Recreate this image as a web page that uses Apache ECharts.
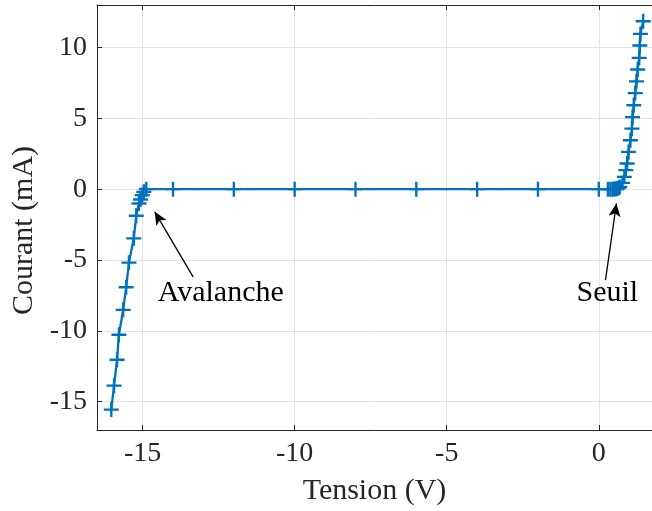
<!DOCTYPE html>
<html>
<head>
<meta charset="utf-8">
<script src="https://cdn.jsdelivr.net/npm/echarts@6/dist/echarts.min.js"></script>
<style>html,body{margin:0;padding:0;background:#fff}#c{width:652px;height:511px}</style>
</head>
<body>
<div id="c"></div>
<script>
// Tension (V)
var tension = [-16.03,-15.94,-15.84,-15.78,-15.64,-15.54,-15.45,-15.29,-15.21,-15.12,-15.07,-15.01,-14.96,-14.88,
  -14,-12,-10,-8,-6,-4,-2,0,0.30,0.38,0.45,0.50,0.56,0.60,0.65,0.69,0.78,0.84,0.89,0.93,0.98,1.04,1.09,1.11,1.15,1.20,1.24,1.28,1.33,1.35,1.37,1.46];
// Courant (mA)
var courant = [-15.56,-13.87,-12.04,-10.28,-8.52,-6.92,-5.19,-3.47,-1.88,-1.01,-0.73,-0.42,-0.19,0,
  0,0,0,0,0,0,0,0,0,0,0,0.01,0.02,0.04,0.08,0.16,0.44,0.87,1.34,1.81,2.63,3.45,4.27,5.09,5.92,6.78,7.61,8.45,9.27,10.14,10.96,11.85];
var xTicks = [-15,-10,-5,0];
var yTicks = [-15,-10,-5,0,5,10];
var xRange = [-16.5, 1.75];
var yRange = [-17, 13];
// annotations: text, text position, arrow tail, arrow head
var annText = ['Avalanche','Seuil'];
var annTextPos = [[-12.43,-7.34],[0.28,-7.34]];
var annTail = [[-13.34,-6.19],[0.22,-6.42]];
var annHead = [[-14.6,-1.6],[0.58,-1.01]];

var data = tension.map(function(v,i){return [v, courant[i]];});
var font = 'Liberation Serif';
var txt = '#262626';
var plus = 'path://M0,5.9H14V8.1H0Z M5.9,0H8.1V14H5.9Z';

var chart = echarts.init(document.getElementById('c'), null, {renderer:'canvas'});
var axisCommon = {
  type:'value',
  axisLine:{show:true,onZero:false,lineStyle:{color:txt,width:1}},
  splitLine:{show:true,lineStyle:{color:'#e3e3e3',width:1}},
};
chart.setOption({
  animation:false,
  backgroundColor:'#fff',
  grid:{left:97,right:0,top:5,bottom:81,containLabel:false},
  xAxis:[
    Object.assign({}, axisCommon, {
      min:xRange[0],max:xRange[1],splitNumber:4,position:'bottom',
      name:'Tension (V)',nameLocation:'middle',nameGap:46,
      nameTextStyle:{fontFamily:font,fontSize:30,color:txt},
      axisTick:{show:true,inside:true,length:5,customValues:xTicks,lineStyle:{color:txt}},
      axisLabel:{show:true,margin:10,customValues:xTicks,fontFamily:font,fontSize:28,color:txt,
        formatter:function(v){return String(v).replace('\u2212','-');}}
    }),
    Object.assign({}, axisCommon, {
      min:xRange[0],max:xRange[1],splitNumber:4,position:'top',
      splitLine:{show:false},
      axisTick:{show:true,inside:true,length:5,customValues:xTicks,lineStyle:{color:txt}},
      axisLabel:{show:false}
    })
  ],
  yAxis:[
    Object.assign({}, axisCommon, {
      min:yRange[0],max:yRange[1],splitNumber:6,position:'left',
      name:'Courant (mA)',nameLocation:'middle',nameGap:54,nameRotate:90,
      nameTextStyle:{fontFamily:font,fontSize:30,color:txt,padding:[0,26,0,0]},
      axisTick:{show:true,inside:true,length:5,customValues:yTicks,lineStyle:{color:txt}},
      axisLabel:{show:true,margin:10,customValues:yTicks,fontFamily:font,fontSize:28,color:txt}
    })
  ],
  series:[{
    type:'line',
    data:data,
    xAxisIndex:0,yAxisIndex:0,
    symbol:plus,symbolSize:15,showAllSymbol:true,
    lineStyle:{color:'#0072BD',width:2.3},
    itemStyle:{color:'#0072BD'},
    z:3,
    markLine:{
      silent:true,
      symbol:['none','arrow'],symbolSize:[9,13],
      lineStyle:{color:'#000',width:1.3,type:'solid'},
      label:{show:false},
      data:annTail.map(function(t,i){return [{coord:t},{coord:annHead[i]}];})
    },
    markPoint:{
      silent:true,
      symbol:'circle',symbolSize:0,
      label:{show:true,position:'inside',fontFamily:font,fontSize:30,color:'#000',formatter:function(p){return p.name;}},
      data:annText.map(function(n,i){return {name:n,coord:annTextPos[i]};})
    }
  }]
});
</script>
</body>
</html>
